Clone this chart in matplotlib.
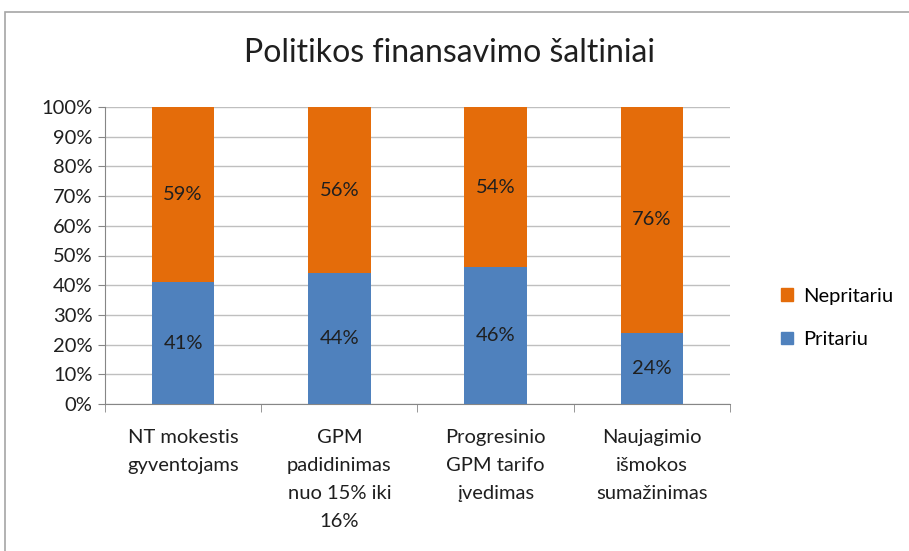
import matplotlib
matplotlib.use("Agg")
import matplotlib.pyplot as plt
from matplotlib.patches import Rectangle, Patch
from matplotlib.ticker import PercentFormatter

categories = ["NT mokestis\ngyventojams", "GPM\npadidinimas\nnuo 15% iki\n16%",
              "Progresinio\nGPM tarifo\nįvedimas", "Naujagimio\nišmokos\nsumažinimas"]
pritariu = [41, 44, 46, 24]
nepritariu = [59, 56, 54, 76]
yticks = list(range(0, 101, 10))

BLUE, ORANGE = "#4f81bd", "#e46c0a"
INK, GRID = "#1f1f1f", "#bfbfbf"
FS = 14.5

plt.rcParams["font.family"] = ["Lato", "DejaVu Sans"]

fig = plt.figure(figsize=(9.09, 5.51), dpi=100)
# chart frame (Excel style), cut off at right and bottom
fig.patches.append(Rectangle((5 / 909, -0.1), 1.1, (551 - 12) / 551 + 0.1, transform=fig.transFigure,
                             fill=False, edgecolor="#a6a6a6", lw=1.2))

ax = fig.add_axes([105 / 909, 147 / 551, 625 / 909, 297 / 551])
x = range(len(categories))
b1 = ax.bar(x, pritariu, width=0.4, color=BLUE, label="Pritariu", zorder=3)
b2 = ax.bar(x, nepritariu, width=0.4, bottom=pritariu, color=ORANGE, label="Nepritariu", zorder=3)
ax.bar_label(b1, labels=[f"{v}%" for v in pritariu], label_type="center", fontsize=FS, color=INK)
ax.bar_label(b2, labels=[f"{v}%" for v in nepritariu], label_type="center", fontsize=FS, color=INK)

ax.set_xlim(-0.5, len(categories) - 0.5)
ax.set_ylim(0, 100)
ax.set_yticks(yticks)
ax.yaxis.set_major_formatter(PercentFormatter(decimals=0))
ax.set_xticks(x)
ax.set_xticklabels(categories, fontsize=FS, color=INK, linespacing=1.78, va="top")
ax.tick_params(axis="x", length=0, pad=18)
ax.set_xticks([i - 0.5 for i in range(len(categories) + 1)], minor=True)
ax.tick_params(axis="x", which="minor", length=6, color="#868686")
ax.tick_params(axis="y", length=5, color="#868686", labelsize=FS, labelcolor=INK, pad=4)
ax.grid(axis="y", color=GRID, lw=1, zorder=0)
for s in ("top", "right"):
    ax.spines[s].set_visible(False)
for s in ("left", "bottom"):
    ax.spines[s].set_color("#868686")

fig.text(0.5 - 0.005, 1 - 53 / 551, "Politikos finansavimo šaltiniai", ha="center", va="center",
         fontsize=23, color=INK)

fig.legend(handles=[Patch(color=ORANGE, label="Nepritariu"), Patch(color=BLUE, label="Pritariu")],
           loc="center left", bbox_to_anchor=(763 / 909, 1 - 318 / 551), frameon=False,
           fontsize=FS, handlelength=0.6, handleheight=0.6, labelspacing=1.3, handletextpad=0.5)

fig.savefig("out.png", dpi=100, facecolor="white")
